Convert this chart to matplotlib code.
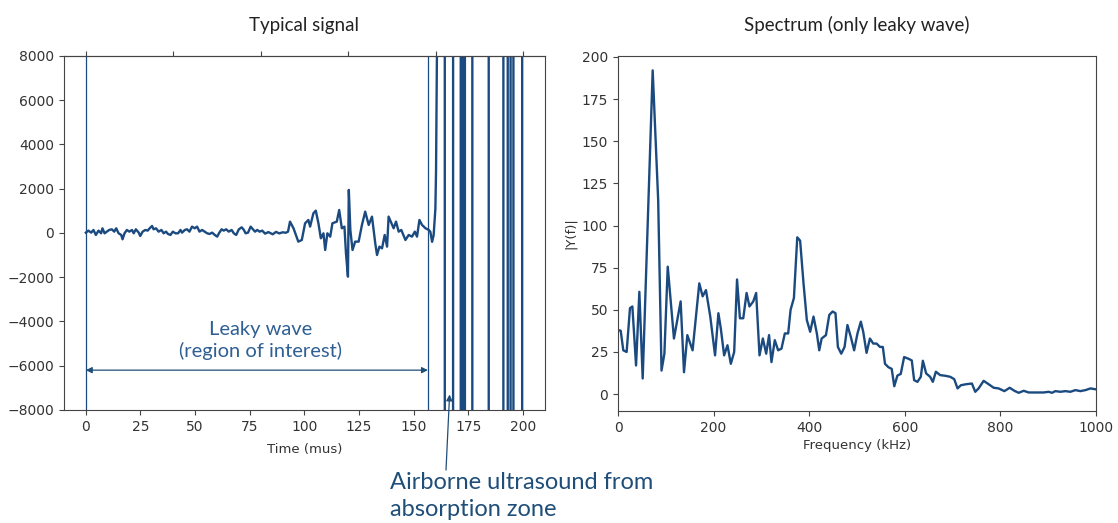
import numpy as np
import matplotlib
matplotlib.use("Agg")
import matplotlib.pyplot as plt

# --- data ---
# leaky wave part of the signal (time in mus, amplitude)
sig_t = [0.0, 1.2, 2.45, 3.5, 4.6, 5.8, 7.0, 7.6, 8.6, 9.6, 10.7, 11.9, 13.0, 13.9,
         15.0, 16.2, 16.8, 17.7, 18.8, 19.9, 21.1, 21.9, 22.9, 24.2, 24.9, 26.0,
         27.2, 28.3, 29.2, 30.3, 31.0, 32.1, 33.3, 34.6, 35.6, 36.7, 37.6, 38.7,
         39.8, 41.0, 42.2, 43.3, 44.0, 45.3, 46.3, 47.4, 48.6, 49.8, 50.9, 52.0,
         53.2, 54.4, 55.5, 56.6, 57.8, 59.0, 60.1, 60.9, 62.1, 63.1, 64.2, 65.4,
         66.7, 67.7, 68.8, 70.0, 71.3, 72.3, 73.1, 74.2, 75.4, 76.5, 77.4, 78.4,
         79.5, 80.7, 82.0, 83.5, 85.5, 87.0, 88.5, 90.0, 91.5, 92.5,
         93.4, 95.0, 97.2, 98.8, 100.3, 101.8, 102.6, 104.1, 105.2, 106.4, 107.5,
         108.7, 109.5, 110.5, 111.8, 112.8, 114.8, 115.9, 117.1, 118.3, 119.0,
         119.9, 120.3, 121.0, 122.0, 123.2, 124.8, 126.3, 127.8, 129.4, 130.9,
         132.4, 133.2, 134.3, 135.5, 136.7, 137.8, 138.5, 139.8, 140.8, 141.9,
         143.1, 144.3, 146.2, 147.7, 149.2, 150.5, 151.5, 152.6, 153.8, 155.4,
         156.9, 157.6, 158.4, 159.1, 159.9, 160.2, 160.6, 161.0]
sig_v = [15, 106, 15, 136, -90, 106, -15, 211, -15, 60, 136, 166, 60, 211,
         -15, -90, -287, -15, 136, 60, 136, -15, 166, 15, -136, 60,
         136, 106, 211, 317, 166, 211, 60, 136, -15, 60, -45, -90,
         60, -15, -15, 136, 15, 136, 166, 60, 287, 211, 287, 60,
         136, 60, -15, -45, 15, -90, -166, -15, 166, 106, 166, 60,
         136, -15, -90, 166, 256, 136, -15, 15, 287, 166, 60, 136,
         60, 106, -30, 40, -60, 50, -20, 30, 10, 60,
         513, 211, -392, -317, 437, 588, 287, 890, 1010, 437, -241,
         -15, -770, -15, -166, 437, 513, 1040, 211, 287, -920,
         -1976, 1946, 136, -770, -392, -392, 362, 965, 362, 739,
         -468, -995, -618, -694, -90, -618, 739, 437, 211, 513,
         60, 136, -317, -90, -166, 60, -166, 588, 362, 211,
         136, 50, -400, -100, 1100, 2800, 8000, 100000]

# airborne burst: times where the saturated signal flips sign
burst_t = [164.2, 168.0, 171.5, 172.4, 173.4, 176.8, 184.3, 191.0, 193.0,
           194.3, 195.6, 199.6]
burst_amp = 100000
roi_end = 156.5

# spectrum of the leaky wave
freq = [0.7, 5.6, 11, 18, 25, 30, 37.7, 44.6, 51.6, 72.5, 84, 91, 97, 104, 117,
        131, 138, 145, 156, 170, 177, 184, 193, 203, 210, 215, 222, 229, 236,
        243, 249, 255, 262, 269, 275, 283, 289, 296, 303, 310, 316, 321, 328,
        335, 342, 349, 356, 361, 368, 375, 381, 388, 395, 402, 409, 416, 421,
        426, 435, 442, 449, 455, 460, 467, 474, 480, 487, 494, 501, 508, 513,
        520, 527, 534, 541, 548, 554, 558.6, 565.6, 572.6, 578, 584.5, 591.5,
        598.6, 607.6, 614.6, 619.5, 626.5, 633.5, 637.8, 644.7, 653, 658.7, 665,
        674, 684.6, 695, 703.4, 710.4, 717.4, 728.5, 740.4, 747.4, 754.4, 765,
        775.4, 786, 796.4, 808.3, 819.5, 829.2, 838.3, 848.8, 859.2, 873, 890.5,
        901, 908, 915, 925.5, 936, 946.4, 957, 967.4, 978, 988.5, 1001]
amp = [38, 37.6, 26, 25, 51, 52, 17, 60.7, 9.3, 192, 115, 14, 24, 75.6, 33,
       55, 13, 35, 26, 65.7, 58, 61.7, 46, 23, 48, 39, 23, 29, 18,
       25, 68, 45, 45, 60, 52, 55, 60, 23, 33, 24, 35, 19, 32,
       26, 27, 36, 36, 50, 57, 93, 91, 66, 44, 37, 46, 36, 26,
       33, 35, 47, 49, 48, 28, 24, 28, 41, 34, 26, 36, 43, 37,
       24.5, 33, 30, 30, 28, 28, 18, 16, 15, 4.7, 11, 12,
       22, 21, 20, 8.3, 7.3, 10.3, 19.8, 12.3, 10.3, 7.3, 13.3,
       11.3, 10.9, 10.3, 8.9, 3.4, 5.3, 5.9, 6.3, 1.4, 3.4, 7.9,
       5.9, 3.8, 3.4, 1.8, 3.8, 2.0, 0.8, 2.0, 1.0, 1.0, 1.0,
       1.4, 0.8, 1.8, 1.4, 1.8, 1.4, 2.4, 1.8, 2.4, 3.4, 2.8]

# --- build the saturated tail of the signal ---
t_all = list(sig_t)
v_all = list(sig_v)
sign = 1
for c in burst_t:
    t_all += [c - 0.05, c + 0.05]
    v_all += [sign * burst_amp, -sign * burst_amp]
    sign = -sign
t_all.append(200.0)
v_all.append(sign * burst_amp)

line_c = "#1b4a80"
text_c = "#1f4e79"
label_c = "#2f5f93"
gray = "#444444"
txt_font = ["Lato", "DejaVu Sans"]

fig = plt.figure(figsize=(11.18, 5.23), dpi=100)
ax1 = fig.add_axes([0.0572, 0.2161, 0.4302, 0.6769])
ax2 = fig.add_axes([0.5528, 0.2141, 0.4275, 0.6788])

for ax in (ax1, ax2):
    for s in ax.spines.values():
        s.set_color(gray)
    ax.tick_params(colors=gray, labelcolor="#333333", labelsize=10)

# --- left: typical signal ---
ax1.plot(t_all, v_all, color=line_c, lw=1.7)
ax1.axvline(0, color=line_c, lw=0.9)
ax1.axvline(roi_end, color=line_c, lw=0.9)
ax1.set_xlim(-10, 210)
ax1.set_ylim(-8000, 8000)
ax1.set_yticks(np.arange(-8000, 8001, 2000))
ax1.set_xticks(np.arange(0, 201, 25))
ax1.set_xlabel("Time (mus)", fontsize=9.5, color="#333333", labelpad=7)
ax1.set_title("Typical signal", fontsize=13.5, family=txt_font, color="#222222", pad=18)

top = ax1.secondary_xaxis("top")
top.set_xticks(np.arange(0, 201, 40))
top.tick_params(labeltop=False, colors=gray)
top.spines["top"].set_color(gray)

ax1.annotate("", xy=(0, -6200), xytext=(roi_end, -6200),
             arrowprops=dict(arrowstyle="<|-|>", color=text_c, lw=0.9,
                             mutation_scale=9, shrinkA=0, shrinkB=0))
ax1.text(80, -4850, "Leaky wave\n(region of interest)", ha="center", va="center",
         fontsize=14.5, color=label_c, family=txt_font, linespacing=1.25)

ax1.annotate("", xy=(166.4, -7300), xycoords="data",
             xytext=(446, 523 - 470), textcoords="figure pixels",
             arrowprops=dict(arrowstyle="-|>", color=text_c, lw=0.9,
                             mutation_scale=9, shrinkA=0, shrinkB=0),
             annotation_clip=False)
fig.text(390 / 1118, 1 - 472 / 523, "Airborne ultrasound from\nabsorption zone",
         ha="left", va="top", fontsize=17, color=text_c, family=txt_font,
         linespacing=1.35)

# --- right: spectrum ---
ax2.plot(freq, amp, color=line_c, lw=1.7)
ax2.set_xlim(0, 1000)
ax2.set_ylim(-10, 200.5)
ax2.set_yticks(np.arange(0, 201, 25))
ax2.set_xticks(np.arange(0, 1001, 200))
ax2.set_xlabel("Frequency (kHz)", fontsize=9.5, color="#333333", labelpad=3)
ax2.set_ylabel("|Y(f)|", fontsize=9.5, color="#333333", labelpad=4)
ax2.set_title("Spectrum (only leaky wave)", fontsize=13.5, family=txt_font,
              color="#222222", pad=18)

fig.savefig("out.png", dpi=100)
